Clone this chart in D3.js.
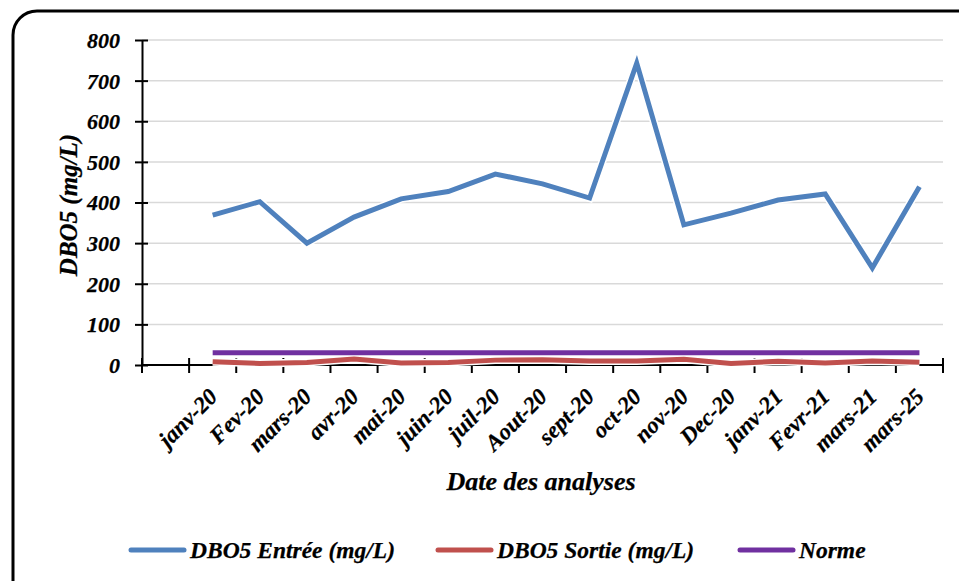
<!DOCTYPE html>
<html><head><meta charset="utf-8">
<script src="https://cdn.jsdelivr.net/npm/d3@7"></script>
<style>body{margin:0;background:#fff}svg{display:block}</style>
</head><body><svg id="c" width="959" height="581"></svg>
<script>
const categories = ["", "janv-20","Fev-20","mars-20","avr-20","mai-20","juin-20","juil-20","Aout-20","sept-20","oct-20","nov-20","Dec-20","janv-21","Fevr-21","mars-21","mars-25"];
const entree = [null, 369, 402, 300, 364, 409, 427, 470, 446, 411, 743, 345, 374, 406, 421, 239, 439];
const sortie = [null, 8, 4, 6, 15, 5, 6, 12, 13, 10, 10, 14, 4, 9, 5, 10, 7];
const norme = [null, 30, 30, 30, 30, 30, 30, 30, 30, 30, 30, 30, 30, 30, 30, 30, 30];
const yTicks = [0,100,200,300,400,500,600,700,800];
const seriesNames = ["DBO5 Entrée (mg/L)", "DBO5 Sortie (mg/L)", "Norme"];
const colors = ["#4f81bd", "#c0504d", "#7030a0"];

const FONT = "font-family:'Liberation Serif','Times New Roman',serif;font-weight:bold;font-style:italic;fill:#000;stroke:#000;stroke-width:0.25px";
const svg = d3.select("#c");
const L = 142, R = 943, T = 40, B = 365;
const x = d3.scaleBand().domain(d3.range(categories.length)).range([L, R]).padding(0);
const y = d3.scaleLinear().domain([0, 800]).range([B, T]);

// frame
svg.append("rect").attr("x", 13).attr("y", 11).attr("width", 990).attr("height", 620)
  .attr("rx", 24).attr("fill", "none").attr("stroke", "#000").attr("stroke-width", 3);

// gridlines
svg.append("g").selectAll("line").data(yTicks.filter(d => d > 0)).join("line")
  .attr("x1", L).attr("x2", R).attr("y1", d => y(d)).attr("y2", d => y(d))
  .attr("stroke", "#d9d9d9").attr("stroke-width", 1.5);

// y axis
const ya = svg.append("g").attr("transform", `translate(${L},0)`)
  .call(d3.axisLeft(y).tickValues(yTicks).tickSize(7).tickSizeOuter(0).tickPadding(15));
ya.select(".domain").attr("stroke", "#000").attr("stroke-width", 2);
ya.selectAll(".tick line").attr("stroke", "#000").attr("stroke-width", 2).attr("x2", 6).attr("x1", -7);
ya.selectAll(".tick text").attr("style", FONT + ";font-size:22px").attr("dy", "0.34em");

// x axis
const boundaries = d3.range(categories.length + 1).map(i => L + i * x.bandwidth());
svg.append("line").attr("x1", L).attr("x2", R).attr("y1", B).attr("y2", B).attr("stroke", "#000").attr("stroke-width", 2);
svg.append("g").selectAll("line").data(boundaries).join("line")
  .attr("x1", d => d).attr("x2", d => d).attr("y1", B - 7).attr("y2", B + 8)
  .attr("stroke", "#000").attr("stroke-width", 2);
svg.append("g").selectAll("text").data(categories).join("text")
  .attr("transform", (d, i) => `translate(${x(i) + x.bandwidth() / 2 + 6},${B + 33}) rotate(-45)`)
  .attr("text-anchor", "end").attr("style", FONT + ";font-size:23px").text(d => d);

// lines
const line = d3.line().defined(d => d[1] != null).x(d => x(d[0]) + x.bandwidth() / 2).y(d => y(d[1]));
const series = [entree, sortie, norme];
const order = [2, 1, 0];
order.forEach(s => {
  const pts = series[s].map((v, i) => [i, v]);
  svg.append("path").attr("d", line(pts)).attr("fill", "none").attr("stroke", "#fff")
    .attr("stroke-width", 8).attr("stroke-linejoin", "miter");
});
order.forEach(s => {
  const pts = series[s].map((v, i) => [i, v]);
  svg.append("path").attr("d", line(pts)).attr("fill", "none").attr("stroke", colors[s])
    .attr("stroke-width", 5).attr("stroke-linejoin", "miter");
});

// axis titles
svg.append("text").attr("transform", "translate(77,205) rotate(-90)").attr("text-anchor", "middle")
  .attr("style", FONT + ";font-size:25px").text("DBO5 (mg/L)");
svg.append("text").attr("x", 541).attr("y", 490).attr("text-anchor", "middle")
  .attr("style", FONT + ";font-size:26px").text("Date des analyses");

// legend
const legX = [131, 438, 740];
seriesNames.forEach((n, i) => {
  const g = svg.append("g").attr("transform", `translate(${legX[i]},550)`);
  g.append("line").attr("x1", 0).attr("x2", 53).attr("y1", 0).attr("y2", 0)
    .attr("stroke", colors[i]).attr("stroke-width", 5).attr("stroke-linecap", "round");
  g.append("text").attr("x", 59).attr("y", 8).attr("style", FONT + ";font-size:23.5px").text(n);
});
</script></body></html>
